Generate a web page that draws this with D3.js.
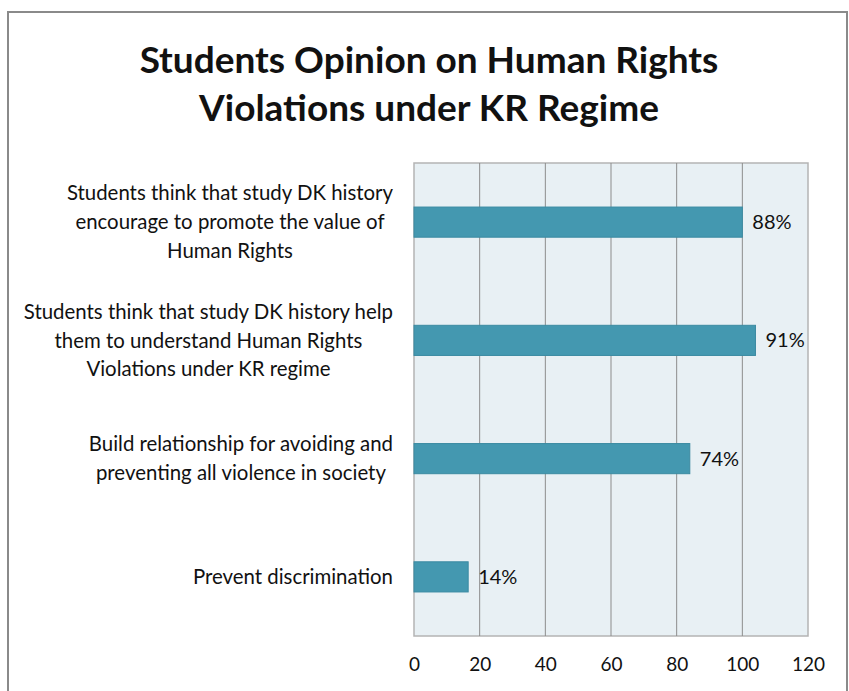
<!DOCTYPE html>
<html>

<head>
    <meta charset="utf-8" />
    <title>Students Opinion</title>
    <style>
        body { margin: 0; background: #fff; }
        text { font-family: Lato, "Open Sans", sans-serif; fill: #111; }
    </style>
</head>

<body>
    <svg width="849" height="691"></svg>
</body>

<script src="https://cdn.jsdelivr.net/npm/d3@7"></script>
<script>

    // chart values
    var categories = [
        ['Students think that study DK history', 'encourage to promote the value of', 'Human Rights'],
        ['Students think that study DK history help', 'them to understand Human Rights', 'Violations under KR regime'],
        ['Build relationship for avoiding and', 'preventing all violence in society'],
        ['Prevent discrimination']
    ];
    var counts = [100, 104, 84, 16.5];
    var labels = ['88%', '91%', '74%', '14%'];
    var ticks = [0, 20, 40, 60, 80, 100, 120];
    var titleLines = ['Students Opinion on Human Rights', 'Violations under KR Regime'];

    var svg = d3.select('svg');

    // outer frame
    svg.append('rect')
        .attr('x', 8).attr('y', 12)
        .attr('width', 839).attr('height', 700)
        .attr('fill', 'none')
        .attr('stroke', '#8a8a8a')
        .attr('stroke-width', 2);

    svg.selectAll('.title')
        .data(titleLines)
        .enter()
        .append('text')
        .attr('class', 'title')
        .attr('x', 429)
        .attr('y', function (d, i) { return 60 + i * 48; })
        .attr('dy', '0.35em')
        .attr('text-anchor', 'middle')
        .style('font-weight', 'bold')
        .style('font-size', '37px')
        .text(function (d) { return d; });

    var pLeft = 414, pRight = 808, pTop = 163, pBottom = 636;

    var x = d3.scaleLinear()
        .domain([0, 120])
        .range([pLeft, pRight]);

    var y = d3.scaleBand()
        .domain(d3.range(categories.length))
        .range([pTop, pBottom])
        .paddingInner(0.745)
        .paddingOuter(0.3725);

    var g = svg.append('g');

    g.append('rect')
        .attr('x', pLeft).attr('y', pTop)
        .attr('width', pRight - pLeft).attr('height', pBottom - pTop)
        .attr('fill', '#e8f0f4')
        .attr('stroke', '#b4b4b4')
        .attr('stroke-width', 1.5);

    g.selectAll('.grid')
        .data(ticks.slice(1, -1))
        .enter()
        .append('line')
        .attr('x1', function (d) { return x(d); })
        .attr('x2', function (d) { return x(d); })
        .attr('y1', pTop).attr('y2', pBottom)
        .attr('stroke', '#8c8c8c')
        .attr('stroke-width', 1);

    var xAxis = d3.axisBottom(x)
        .tickValues(ticks)
        .tickSize(0)
        .tickPadding(22);

    g.append('g')
        .attr('transform', 'translate(0,' + pBottom + ')')
        .call(xAxis)
        .call(function (a) { a.select('.domain').remove(); })
        .selectAll('text')
        .style('font-family', 'Lato, sans-serif')
        .style('font-size', '19px')
        .attr('fill', '#111');

    g.selectAll('.bar')
        .data(counts)
        .enter()
        .append('rect')
        .attr('class', 'bar')
        .attr('x', x(0))
        .attr('y', function (d, i) { return y(i); })
        .attr('width', function (d) { return x(d) - x(0); })
        .attr('height', y.bandwidth())
        .attr('fill', '#4498b0')
        .attr('stroke', '#3b8aa2')
        .attr('stroke-width', 1);

    g.selectAll('.val')
        .data(counts)
        .enter()
        .append('text')
        .attr('class', 'val')
        .attr('x', function (d) { return x(d) + 10; })
        .attr('y', function (d, i) { return y(i) + y.bandwidth() / 2; })
        .attr('dy', '0.35em')
        .style('font-size', '20px')
        .text(function (d, i) { return labels[i]; });

    // category labels: lines centred as a block whose right edge sits near the plot
    var lineH = 28.8;
    categories.forEach(function (lines, i) {
        var cy = y(i) + y.bandwidth() / 2;
        var t = svg.append('text')
            .attr('text-anchor', 'middle')
            .style('font-size', '20.4px');
        var spans = t.selectAll('tspan')
            .data(lines)
            .enter()
            .append('tspan')
            .attr('y', function (d, k) { return cy + (k - (lines.length - 1) / 2) * lineH; })
            .attr('dy', '0.35em')
            .text(function (d) { return d; });
        var w = d3.max(spans.nodes(), function (n) { return n.getComputedTextLength(); });
        spans.attr('x', 393 - w / 2);
    });

</script>

</html>
